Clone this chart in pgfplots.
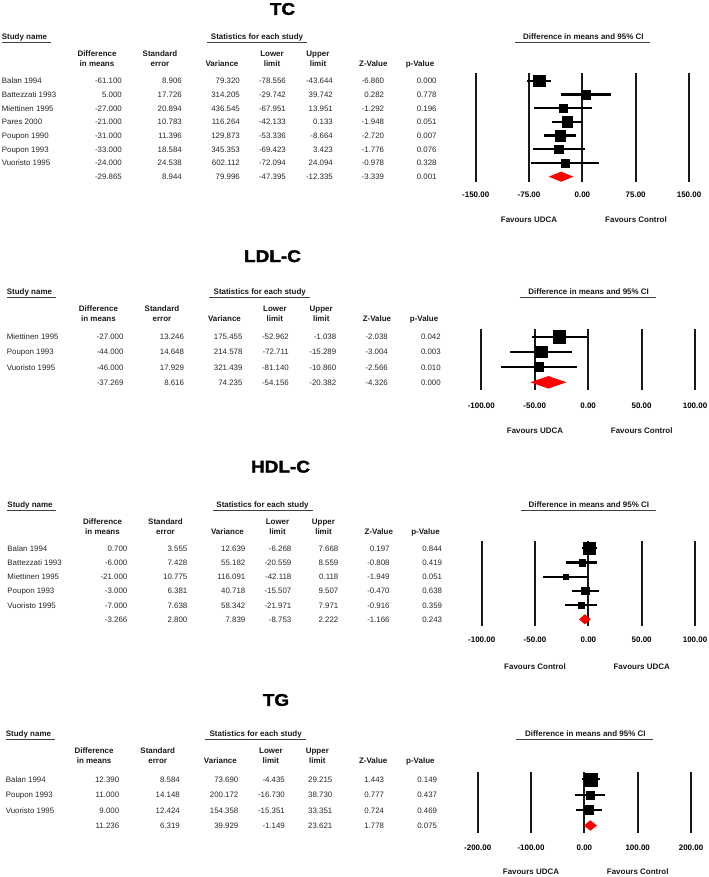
\documentclass[border=0pt]{standalone}
\usepackage{fontspec}
\setmainfont{Liberation Sans}
\newfontfamily\heavy{Liberation Sans}[BoldFeatures={FakeBold=2, FakeStretch=1.12}]
\usepackage{pgfplots}
\usepackage{pgfplotstable}
\pgfplotsset{compat=1.18}

% study rows: y position, estimate, CI, half side of the square
\pgfplotstableread{
y est lo hi sz
-1 -61.100 -78.556 -43.644 5.8
-2 5.000 -29.742 39.742 4.5
-3 -27.000 -67.951 13.951 4.2
-4 -21.000 -42.133 0.133 5.2
-5 -31.000 -53.336 -8.664 5.3
-6 -33.000 -69.423 3.423 4.2
-7 -24.000 -72.094 24.094 3.8
}\tcdata
\pgfplotstableread{
y est lo hi sz
-1 -27.000 -52.962 -1.038 6.1
-2 -44.000 -72.711 -15.289 5.6
-3 -46.000 -81.140 -10.860 4.5
}\ldldata
\pgfplotstableread{
y est lo hi sz
-1 0.700 -6.268 7.668 5.8
-2 -6.000 -20.559 8.559 3.2
-3 -21.000 -42.118 0.118 2.3
-4 -3.000 -15.507 9.507 3.6
-5 -7.000 -21.971 7.971 3.0
}\hdldata
\pgfplotstableread{
y est lo hi sz
-1 12.390 -4.435 29.215 6.5
-2 11.000 -16.730 38.730 4.0
-3 9.000 -15.351 33.351 4.5
}\tgdata

\pgfplotsset{
  fp/.style={scale only axis, anchor=south west, clip=false,
    axis line style={draw=none}, major tick length=0pt, ytick=\empty,
    xmajorgrids, major grid style={black!90, line width=2bp},
    xticklabel style={font=\bfseries\fontsize{8}{9.6}\selectfont, anchor=base}},
  sq/.style={scatter, only marks, mark=square*,
    scatter/use mapped color={draw=black, fill=black},
    visualization depends on={\thisrow{sz} \as \msz},
    scatter/@pre marker code/.append style={/tikz/mark size=\msz bp},
    error bars/.cd, x dir=both, x explicit, error mark=none,
    error bar style={line width=2.2bp, black}},
}

% column positions of one panel: shift, stretch, left of the names
\newcommand{\setpanel}[3]{%
  \def\cN{#3}%
  \pgfmathsetmacro\cA{#1+#2*122}\pgfmathsetmacro\cB{#1+#2*182}%
  \pgfmathsetmacro\cC{#1+#2*240}\pgfmathsetmacro\cD{#1+#2*286}%
  \pgfmathsetmacro\cE{#1+#2*333}\pgfmathsetmacro\cF{#1+#2*384.3}%
  \pgfmathsetmacro\cG{#1+#2*436.7}%
  \pgfmathsetmacro\hA{#1+#2*97}\pgfmathsetmacro\hB{#1+#2*160}%
  \pgfmathsetmacro\hC{#1+#2*222}\pgfmathsetmacro\hD{#1+#2*272}%
  \pgfmathsetmacro\hE{#1+#2*318}\pgfmathsetmacro\hF{#1+#2*373.3}%
  \pgfmathsetmacro\hG{#1+#2*420}%
  \pgfmathsetmacro\sC{#1+#2*257}\pgfmathsetmacro\sL{#1+#2*207}%
  \pgfmathsetmacro\sR{#1+#2*307}%
  \pgfmathsetmacro\qC{#1+#2*583.3}\pgfmathsetmacro\qL{#1+#2*515}%
  \pgfmathsetmacro\qR{#1+#2*650}}

\newcommand{\thead}[1]{%
  \node[hd, anchor=base west] at (\cN,-#1-2.9) {Study name};
  \draw[ul] (\cN,-#1-5.8) -- ++(49,0);
  \node[hd] at (\sC,-#1-2.9) {Statistics for each study};
  \draw[ul] (\sL,-#1-5.8) -- (\sR,-#1-5.8);
  \node[hd] at (\qC,-#1-2.9) {Difference in means and 95\% CI};
  \draw[ul] (\qL,-#1-5.8) -- (\qR,-#1-5.8);
  \node[hd] at (\hA,-#1-19.9) {Difference};
  \node[hd] at (\hA,-#1-29.7) {in means};
  \node[hd] at (\hB,-#1-19.9) {Standard};
  \node[hd] at (\hB,-#1-29.7) {error};
  \node[hd] at (\hC,-#1-29.7) {Variance};
  \node[hd] at (\hD,-#1-19.9) {Lower};
  \node[hd] at (\hD,-#1-29.7) {limit};
  \node[hd] at (\hE,-#1-19.9) {Upper};
  \node[hd] at (\hE,-#1-29.7) {limit};
  \node[hd] at (\hF,-#1-29.7) {Z-Value};
  \node[hd] at (\hG,-#1-29.7) {p-Value};}

\newcommand{\trow}[9]{%
  \node[vl, anchor=base west] at (\cN,-#1-2.9) {#2};
  \node[vl] at (\cA,-#1-2.9) {#3};
  \node[vl] at (\cB,-#1-2.9) {#4};
  \node[vl] at (\cC,-#1-2.9) {#5};
  \node[vl] at (\cD,-#1-2.9) {#6};
  \node[vl] at (\cE,-#1-2.9) {#7};
  \node[vl] at (\cF,-#1-2.9) {#8};
  \node[vl] at (\cG,-#1-2.9) {#9};}

\begin{document}
\begin{tikzpicture}[x=1bp, y=1bp,
  hd/.style={font=\bfseries\fontsize{8}{9.6}\selectfont, anchor=base, inner sep=0pt, text=black!90},
  vl/.style={font=\fontsize{7.9}{9.5}\selectfont, anchor=base east, inner sep=0pt, text=black!85},
  ul/.style={line width=0.9bp, black!75},
  ttl/.style={font=\heavy\bfseries\fontsize{17}{20}\selectfont, inner sep=0pt}]
\path[use as bounding box] (0,0) rectangle (709,-877);

% ---------- TC ----------
\node[ttl] at (282.5,-9) {TC};
\setpanel{0}{1}{1.7}
\thead{37}
\trow{80.7}{Balan 1994}{-61.100}{8.906}{79.320}{-78.556}{-43.644}{-6.860}{0.000}
\trow{94.4}{Battezzati 1993}{5.000}{17.726}{314.205}{-29.742}{39.742}{0.282}{0.778}
\trow{108.1}{Miettinen 1995}{-27.000}{20.894}{436.545}{-67.951}{13.951}{-1.292}{0.196}
\trow{121.8}{Pares 2000}{-21.000}{10.783}{116.264}{-42.133}{0.133}{-1.948}{0.051}
\trow{135.5}{Poupon 1990}{-31.000}{11.396}{129.873}{-53.336}{-8.664}{-2.720}{0.007}
\trow{149.3}{Poupon 1993}{-33.000}{18.584}{345.353}{-69.423}{3.423}{-1.776}{0.076}
\trow{163.0}{Vuoristo 1995}{-24.000}{24.538}{602.112}{-72.094}{24.094}{-0.978}{0.328}
\trow{176.7}{}{-29.865}{8.944}{79.996}{-47.395}{-12.335}{-3.339}{0.001}
\begin{axis}[fp, at={(475.7bp,-181.7bp)}, width=213.3bp, height=108.4bp,
  xmin=-150, xmax=150, ymin=-8.365, ymax=-0.46,
  xtick={-150,-75,0,75,150}, xticklabels={-150.00,-75.00,0.00,75.00,150.00},
  xticklabel style={yshift=-16.2bp}]
\addplot[sq] table[x=est, y=y, x error plus expr=\thisrow{hi}-\thisrow{est},
  x error minus expr=\thisrow{est}-\thisrow{lo}] {\tcdata};
\addplot[fill=red, draw=none] coordinates {(-47.395,-8) (-29.865,-7.635) (-12.335,-8) (-29.865,-8.365) (-47.395,-8)};
\end{axis}
\node[hd] at (529,-222.9) {Favours UDCA};
\node[hd] at (636,-222.9) {Favours Control};

% ---------- LDL-C ----------
\node[ttl] at (272.5,-256.2) {LDL-C};
\setpanel{0.7}{1.008}{6.7}
\thead{291.7}
\trow{336.7}{Miettinen 1995}{-27.000}{13.246}{175.455}{-52.962}{-1.038}{-2.038}{0.042}
\trow{351.9}{Poupon 1993}{-44.000}{14.648}{214.578}{-72.711}{-15.289}{-3.004}{0.003}
\trow{367.1}{Vuoristo 1995}{-46.000}{17.929}{321.439}{-81.140}{-10.860}{-2.566}{0.010}
\trow{382.3}{}{-37.269}{8.616}{74.235}{-54.156}{-20.382}{-4.326}{0.000}
\begin{axis}[fp, at={(481.3bp,-390bp)}, width=213.7bp, height=60.7bp,
  xmin=-100, xmax=100, ymin=-4.507, ymax=-0.513,
  xtick={-100,-50,0,50,100}, xticklabels={-100.00,-50.00,0.00,50.00,100.00},
  xticklabel style={yshift=-18.6bp}]
\addplot[sq] table[x=est, y=y, x error plus expr=\thisrow{hi}-\thisrow{est},
  x error minus expr=\thisrow{est}-\thisrow{lo}] {\ldldata};
\addplot[fill=red, draw=none] coordinates {(-54.156,-4) (-37.269,-3.59) (-20.382,-4) (-37.269,-4.41) (-54.156,-4)};
\end{axis}
\node[hd] at (535,-433.9) {Favours UDCA};
\node[hd] at (641.7,-433.9) {Favours Control};

% ---------- HDL-C ----------
\node[ttl] at (280.5,-466.7) {HDL-C};
\setpanel{5.5}{1}{7.3}
\thead{505}
\trow{548.3}{Balan 1994}{0.700}{3.555}{12.639}{-6.268}{7.668}{0.197}{0.844}
\trow{562.5}{Battezzati 1993}{-6.000}{7.428}{55.182}{-20.559}{8.559}{-0.808}{0.419}
\trow{576.7}{Miettinen 1995}{-21.000}{10.775}{116.091}{-42.118}{0.118}{-1.949}{0.051}
\trow{590.9}{Poupon 1993}{-3.000}{6.381}{40.718}{-15.507}{9.507}{-0.470}{0.638}
\trow{605.1}{Vuoristo 1995}{-7.000}{7.638}{58.342}{-21.971}{7.971}{-0.916}{0.359}
\trow{619.3}{}{-3.266}{2.800}{7.839}{-8.753}{2.222}{-1.166}{0.243}
\begin{axis}[fp, at={(481.7bp,-626bp)}, width=213.3bp, height=85.2bp,
  xmin=-100, xmax=100, ymin=-6.472, ymax=-0.472,
  xtick={-100,-50,0,50,100}, xticklabels={-100.00,-50.00,0.00,50.00,100.00},
  xticklabel style={yshift=-16.9bp}]
\addplot[sq] table[x=est, y=y, x error plus expr=\thisrow{hi}-\thisrow{est},
  x error minus expr=\thisrow{est}-\thisrow{lo}] {\hdldata};
\addplot[fill=red, draw=none] coordinates {(-8.753,-6) (-3.266,-5.64) (2.222,-6) (-3.266,-6.36) (-8.753,-6)};
\end{axis}
\node[hd] at (535,-669.6) {Favours Control};
\node[hd] at (641.7,-669.6) {Favours UDCA};

% ---------- TG ----------
\node[ttl] at (276,-700) {TG};
\setpanel{-3.9}{1.0102}{5.7}
\thead{734}
\trow{779.3}{Balan 1994}{12.390}{8.584}{73.690}{-4.435}{29.215}{1.443}{0.149}
\trow{794.7}{Poupon 1993}{11.000}{14.148}{200.172}{-16.730}{38.730}{0.777}{0.437}
\trow{810.1}{Vuoristo 1995}{9.000}{12.424}{154.358}{-15.351}{33.351}{0.724}{0.469}
\trow{825.5}{}{11.236}{6.319}{39.929}{-1.149}{23.621}{1.778}{0.075}
\begin{axis}[fp, at={(477.7bp,-832.7bp)}, width=213.3bp, height=61bp,
  xmin=-200, xmax=200, ymin=-4.468, ymax=-0.506,
  xtick={-200,-100,0,100,200}, xticklabels={-200.00,-100.00,0.00,100.00,200.00},
  xticklabel style={yshift=-17.5bp}]
\addplot[sq] table[x=est, y=y, x error plus expr=\thisrow{hi}-\thisrow{est},
  x error minus expr=\thisrow{est}-\thisrow{lo}] {\tgdata};
\addplot[fill=red, draw=none] coordinates {(-1.149,-4) (11.236,-3.66) (23.621,-4) (11.236,-4.34) (-1.149,-4)};
\end{axis}
\node[hd] at (531,-874.9) {Favours UDCA};
\node[hd] at (637.7,-874.9) {Favours Control};
\end{tikzpicture}
\end{document}
